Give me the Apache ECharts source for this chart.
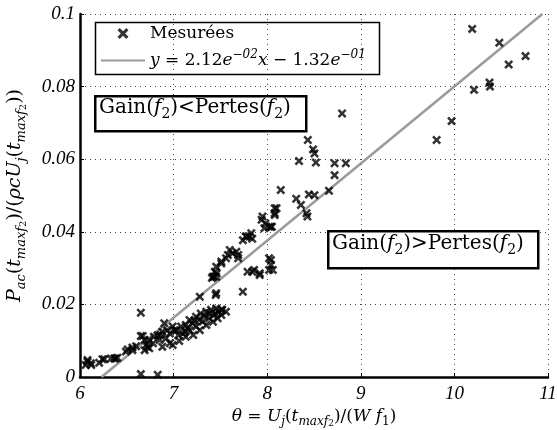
<!DOCTYPE html>
<html><head><meta charset="utf-8">
<script src="https://cdn.jsdelivr.net/npm/echarts@6/dist/echarts.min.js"></script>
<style>html,body{margin:0;padding:0;background:#fff}#c{width:557px;height:430px}</style>
</head><body><div id="c"></div>
<script>
// Measured points: theta (x) and normalised acoustic power (y)
const thetaValues = [
 6.06,6.08,6.08,6.115,6.12,6.205,6.24,6.26,6.33,6.365,6.38,6.40,6.49,6.51,6.56,6.56,6.60,6.65,6.65,6.65,6.83,6.67,6.69,6.69,6.71,6.72,6.74,6.74,6.78,6.79,6.83,6.85,6.86,6.88,6.88,6.90,6.92,6.93,6.96,6.96,6.99,6.99,7.01,7.03,7.06,7.08,7.10,7.13,7.13,7.17,7.17,7.21,7.24,7.24,7.28,7.28,7.29,7.31,7.35,7.35,7.38,7.40,7.42,7.43,7.455,7.47,7.51,7.51,7.52,7.56,7.45,
 7.05,7.15,7.20,7.27,7.33,7.45,7.48,7.38,7.12,7.22,
 7.41,7.42,7.43,7.44,7.455,7.46,7.455,7.51,7.51,7.56,7.58,7.60,7.63,7.67,7.69,7.69,7.74,7.77,7.78,7.81,7.83,7.84,7.94,7.95,7.97,7.98,8.02,8.04,8.05,8.08,8.08,8.10,8.08,7.455,7.74,7.79,7.84,7.86,7.92,7.92,8.02,8.04,8.04,8.06,8.02,
 8.145,8.31,8.34,8.36,8.42,8.43,8.434,8.445,8.49,8.505,8.505,8.52,8.66,8.72,8.72,8.80,8.84,9.81,9.97,10.19,10.21,10.375,10.38,10.48,10.58,10.76
];
const powerValues = [
 0.0033,0.0042,0.0047,0.0038,0.0033,0.0039,0.0049,0.0049,0.0051,0.0051,0.0051,0.0053,0.0070,0.0076,0.0074,0.0081,0.0085,0.0113,0.0177,0.0008,0.0006,0.0113,0.0074,0.0102,0.0089,0.0083,0.0102,0.0079,0.0093,0.0111,0.0115,0.0102,0.0116,0.0125,0.0083,0.0148,0.0107,0.0129,0.0120,0.0093,0.0139,0.0088,0.0129,0.0129,0.0099,0.0139,0.0120,0.0143,0.0111,0.0157,0.0129,0.0116,0.0166,0.0139,0.0129,0.0221,0.0175,0.0152,0.0180,0.0143,0.0162,0.0185,0.0152,0.0170,0.0189,0.0162,0.0185,0.0171,0.0185,0.0180,0.0226,
 0.0115,0.0135,0.0148,0.0158,0.0168,0.0175,0.0180,0.0175,0.0125,0.0155,
 0.0273,0.0276,0.0276,0.0290,0.0276,0.0285,0.0304,0.0313,0.0318,0.0327,0.0336,0.0350,0.0341,0.0345,0.0336,0.0327,0.0377,0.0387,0.0387,0.0387,0.0396,0.0381,0.0433,0.0442,0.0410,0.0423,0.0414,0.0414,0.0414,0.0446,0.0451,0.0465,0.0465,0.0231,0.0235,0.0290,0.0290,0.0295,0.0281,0.0286,0.0327,0.0322,0.0309,0.0295,0.0295,
 0.0515,0.0491,0.0595,0.0474,0.0451,0.0442,0.0653,0.0503,0.0627,0.0616,0.0501,0.0591,0.0513,0.0589,0.0556,0.0726,0.0589,0.0653,0.0705,0.0959,0.0791,0.0811,0.0800,0.0921,0.0861,0.0884
];
// Fit line end points
const fitX = [6.23, 10.94];
const fitY = [0.0, 0.1];
const xTicks = [6, 7, 8, 9, 10, 11];
const yTicks = [0, 0.02, 0.04, 0.06, 0.08, 0.1];

const SERIF = '"Liberation Serif", "DejaVu Serif", serif';
const MATH = '"DejaVu Serif", "Liberation Serif", serif';
const crossPath = 'path://M0,2L2,0L5,3L8,0L10,2L7,5L10,8L8,10L5,7L2,10L0,8L3,5Z';

const measured = thetaValues.map((x, i) => [x, powerValues[i]]);
const fitData = fitX.map((x, i) => [x, fitY[i]]);

const chart = echarts.init(document.getElementById('c'), null, {renderer: 'canvas'});

function mkRich(fs, subRatio) {
  const sub = Math.round(fs * (subRatio || 0.7)), ssub = Math.round(fs * 0.5);
  return {
    n: {fontFamily: MATH, fontSize: fs, lineHeight: fs + 6, color: '#000', verticalAlign: 'middle'},
    i: {fontFamily: MATH, fontSize: fs, fontStyle: 'italic', lineHeight: fs + 6, color: '#000', verticalAlign: 'middle'},
    s: {fontFamily: MATH, fontSize: sub, fontStyle: 'italic', lineHeight: sub, color: '#000', verticalAlign: 'bottom'},
    sn: {fontFamily: MATH, fontSize: sub, lineHeight: sub, color: '#000', verticalAlign: 'bottom'},
    ss: {fontFamily: MATH, fontSize: ssub, lineHeight: ssub - 2, color: '#000', verticalAlign: 'bottom'},
    sup: {fontFamily: MATH, fontSize: sub, fontStyle: 'italic', lineHeight: sub - 2, color: '#000', verticalAlign: 'top'}
  };
}

chart.setOption({
  animation: false,
  backgroundColor: '#fff',
  grid: {left: 80, right: 9, top: 14, bottom: 53, containLabel: false, outerBoundsMode: 'none'},
  xAxis: {
    type: 'value', min: 6, max: 11, interval: 1,
    name: '{i|θ}{n| = }{i|U}{s|j}{n|(}{i|t}{s|maxf}{ss|2}{n|)/(}{i|W f}{sn|1}{n|)}',
    nameLocation: 'middle', nameGap: 24,
    nameTextStyle: {rich: mkRich(17)},
    axisLine: {lineStyle: {color: '#000', width: 2.5}},
    axisTick: {inside: true, length: 4, lineStyle: {color: '#000'}},
    axisLabel: {fontFamily: SERIF, fontStyle: 'italic', fontSize: 19, color: '#000', margin: 7,
      formatter: v => xTicks.includes(v) ? String(v) : ''},
    splitLine: {show: true, lineStyle: {color: '#444', type: [1, 4], width: 1}}
  },
  yAxis: {
    type: 'value', min: 0, max: 0.1, interval: 0.02,
    name: '{i|P}{s|ac}{n|(}{i|t}{s|maxf}{ss|2}{n|)/(}{i|ρcU}{s|j}{n|(}{i|t}{s|maxf}{ss|2}{n|))}',
    nameLocation: 'middle', nameGap: 52, nameRotate: 90,
    nameTextStyle: {rich: mkRich(19, 0.7)},
    axisLine: {lineStyle: {color: '#000', width: 2.5}},
    axisTick: {inside: true, length: 4, lineStyle: {color: '#000'}},
    axisLabel: {fontFamily: SERIF, fontStyle: 'italic', fontSize: 19, color: '#000', margin: 5,
      formatter: v => { const t = yTicks.find(k => Math.abs(k - v) < 1e-9); return t === undefined ? '' : String(t); }},
    splitLine: {show: true, lineStyle: {color: '#444', type: [1, 4], width: 1}}
  },
  legend: {
    orient: 'vertical', left: 96, top: 23, padding: [2, 4, 2, 4], itemGap: 7,
    itemWidth: 44, itemHeight: 11,
    data: ['Mesurées', 'fit'],
    formatter: name => name === 'fit'
      ? '{i|y}{n| = 2.12}{i|e}{sup|−02}{i|x}{n| − 1.32}{i|e}{sup|−01}'
      : '{n|Mesurées}',
    textStyle: {rich: mkRich(17), padding: [0, 0, 0, 0]}
  },
  series: [
    {
      name: 'Mesurées', type: 'scatter', data: measured,
      symbol: crossPath, symbolSize: 9, symbolKeepAspect: true,
      itemStyle: {color: '#000'}, z: 3
    },
    {
      name: 'fit', type: 'line', data: fitData,
      symbol: 'none', showSymbol: false,
      lineStyle: {color: '#9a9a9a', width: 2.5}, itemStyle: {color: '#9a9a9a', opacity: 0}, z: 2
    }
  ],
  graphic: [
    {type: 'rect', left: 93, top: 20, shape: {width: 284, height: 52}, style: {fill: 'none', stroke: '#000', lineWidth: 1.5}, z: 10},
    {type: 'rect', left: 94, top: 95, shape: {width: 211, height: 35}, style: {fill: '#fff', stroke: '#000', lineWidth: 2.5}, z: 10},
    {type: 'text', left: 99, top: 98, z: 11,
      style: {text: '{n|Gain(}{i|f}{sn|2}{n|)<Pertes(}{i|f}{sn|2}{n|)}', rich: mkRich(20)}},
    {type: 'rect', left: 327, top: 230, shape: {width: 210, height: 37}, style: {fill: '#fff', stroke: '#000', lineWidth: 2.5}, z: 10},
    {type: 'text', left: 332, top: 234, z: 11,
      style: {text: '{n|Gain(}{i|f}{sn|2}{n|)>Pertes(}{i|f}{sn|2}{n|)}', rich: mkRich(20)}}
  ]
});
</script>
</body></html>
